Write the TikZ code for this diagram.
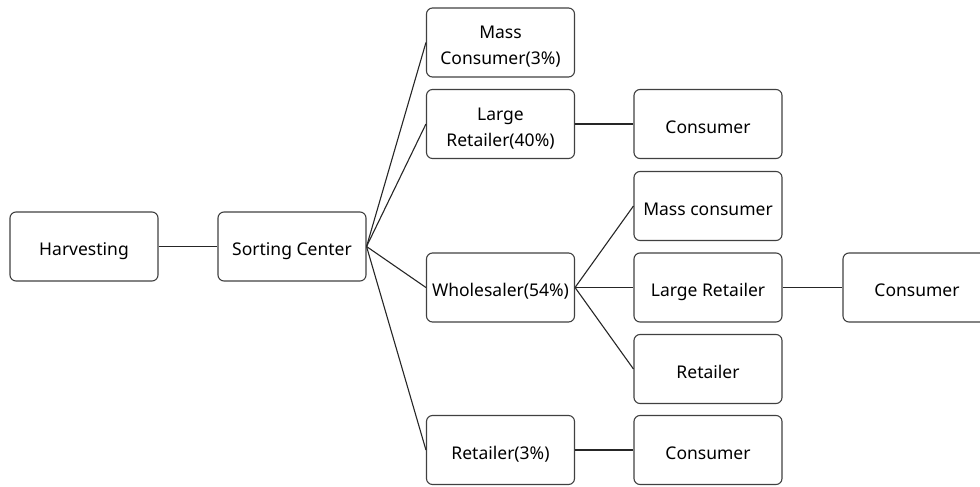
\documentclass[tikz,border=0pt]{standalone}
\usepackage{fontspec}
\setmainfont{Noto Sans}
\newcommand\boxlbl[1]{\raisebox{-4pt}[\height][\depth]{\begin{tabular}{@{}c@{}}#1\end{tabular}}}
\begin{document}
\begin{tikzpicture}[x=1pt,y=-1pt,
  box/.style={draw=black!75, line width=1.1pt, rounded corners=6pt, minimum width=148pt, minimum height=69pt, font=\fontsize{17.5}{26}\selectfont, inner sep=0pt},
  link/.style={draw=black!85, line width=1.1pt}]
\useasboundingbox (0,0) rectangle (980,487);
\begin{scope}
\clip (0,0) rectangle (980,487);
\node[box] (harv) at (84,246.5) {\boxlbl{Harvesting}};
\node[box] (sort) at (292,246.5) {\boxlbl{Sorting Center}};
\node[box] (mass) at (500.5,42.5) {\boxlbl{Mass\\Consumer(3\%)}};
\node[box] (lret) at (500.5,124) {\boxlbl{Large\\Retailer(40\%)}};
\node[box] (whole) at (500.5,287.5) {\boxlbl{Wholesaler(54\%)}};
\node[box] (ret) at (500.5,450) {\boxlbl{Retailer(3\%)}};
\node[box] (cons1) at (708,124) {\boxlbl{Consumer}};
\node[box] (massc) at (708,206) {\boxlbl{Mass consumer}};
\node[box] (lret2) at (708,287.5) {\boxlbl{Large Retailer}};
\node[box] (ret2) at (708,369) {\boxlbl{Retailer}};
\node[box] (cons2) at (708,450) {\boxlbl{Consumer}};
\node[box] (cons3) at (917,287.5) {\boxlbl{Consumer}};
\end{scope}
\draw[link] (harv.east) -- (sort.west);
\draw[link] (sort.east) -- (mass.west);
\draw[link] (sort.east) -- (lret.west);
\draw[link] (sort.east) -- (whole.west);
\draw[link] (sort.east) -- (ret.west);
\draw[link] (lret.east) -- (cons1.west);
\draw[link] (whole.east) -- (massc.west);
\draw[link] (whole.east) -- (lret2.west);
\draw[link] (whole.east) -- (ret2.west);
\draw[link] (ret.east) -- (cons2.west);
\draw[link] (lret2.east) -- (cons3.west);
\end{tikzpicture}
\end{document}
